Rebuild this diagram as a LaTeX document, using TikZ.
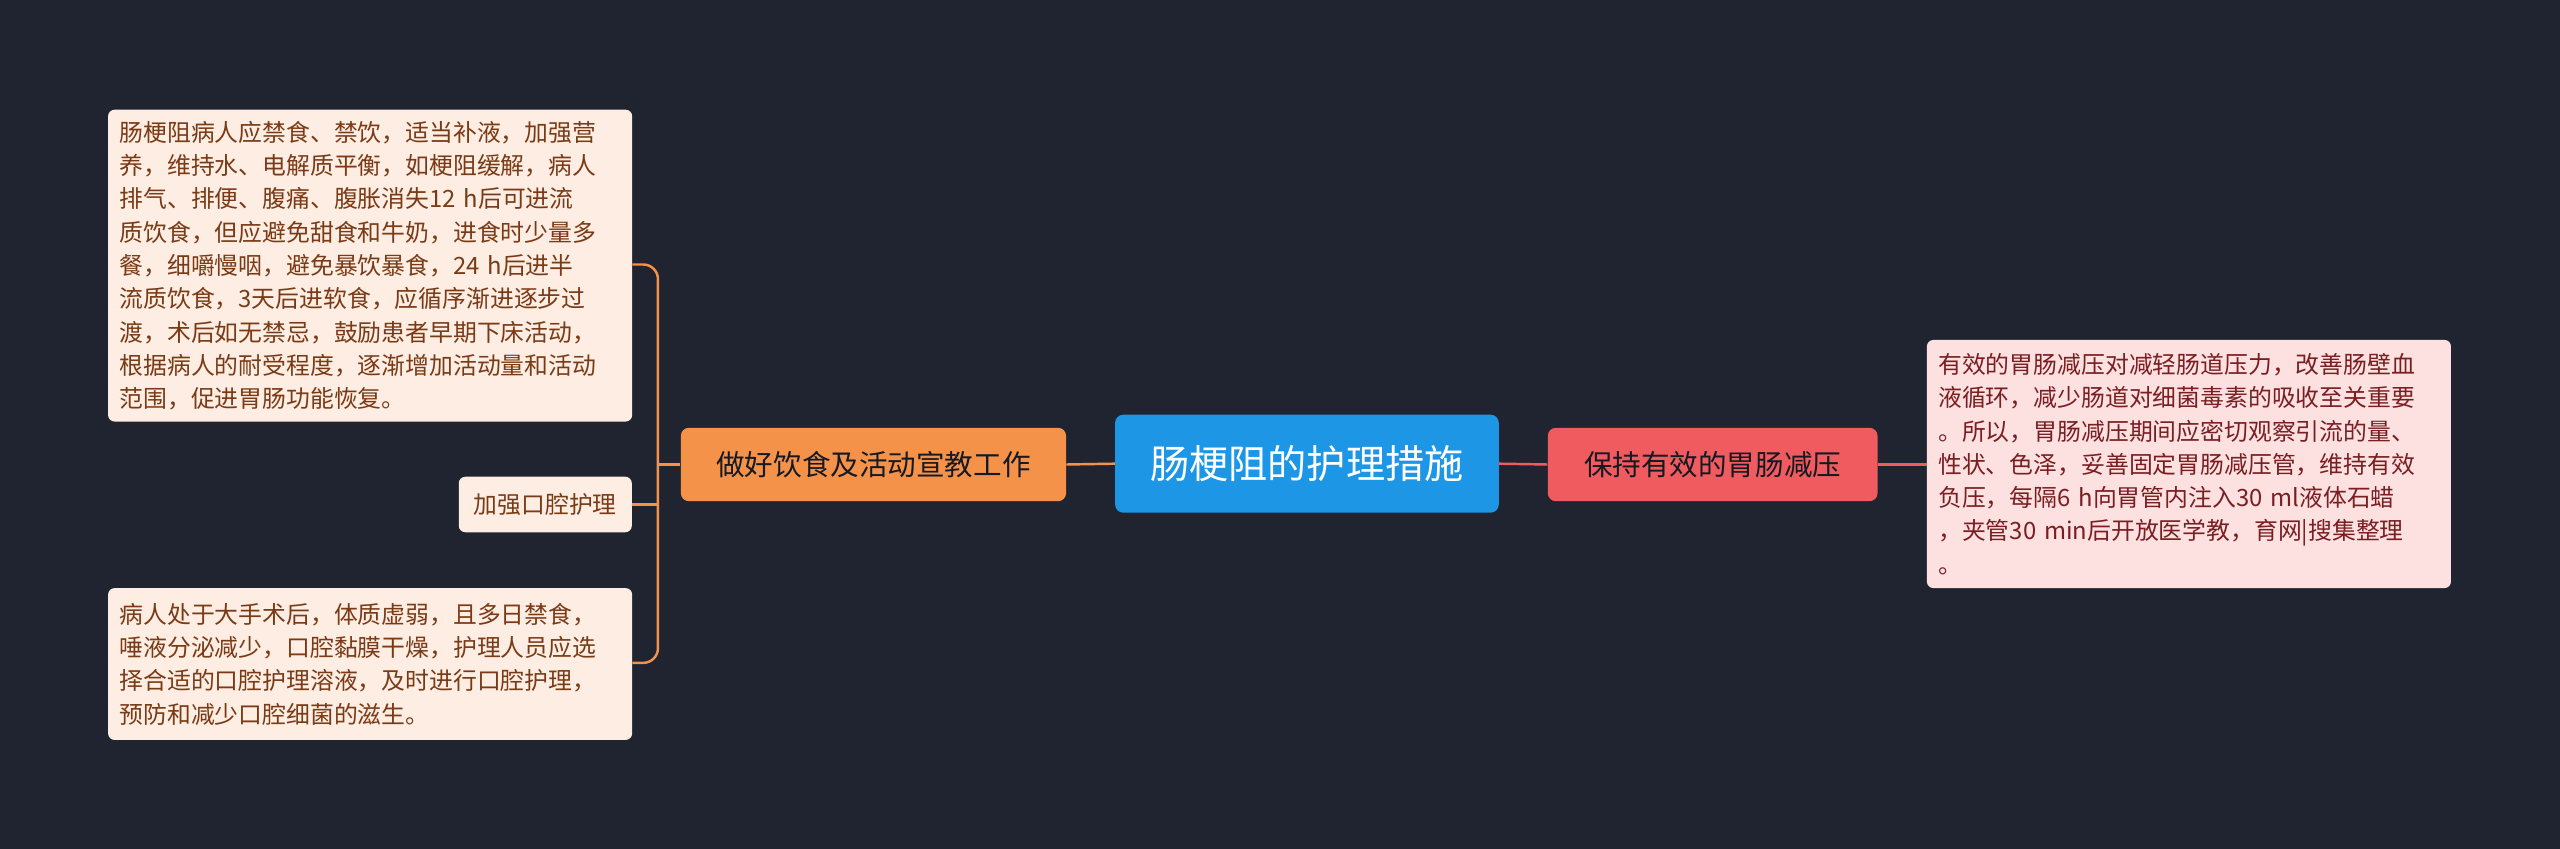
\documentclass[tikz,border=0pt]{standalone}
\usepackage{fontspec}
\newfontfamily\cjk{Noto Sans CJK SC}
\definecolor{bg}{HTML}{1F2430}
\definecolor{blue}{HTML}{1E96E6}
\definecolor{org}{HTML}{F4924A}
\definecolor{rd}{HTML}{EF5B5E}
\definecolor{peach}{HTML}{FDEDE2}
\definecolor{pink}{HTML}{FDE1E1}
\definecolor{ltxt}{HTML}{7A3A16}
\definecolor{rtxt}{HTML}{7A1E22}
\begin{document}
\begin{tikzpicture}[x=1pt,y=-1pt,
 leaf/.style={rounded corners=4pt,inner xsep=7pt,inner ysep=4pt,anchor=north west,align=left,font=\cjk\fontsize{14.6}{20.4}\selectfont},
 mainn/.style={rounded corners=5pt,inner sep=0pt,font=\cjk\fontsize{17.5}{20}\selectfont,text=bg!70!black}]
\fill[bg] (0,0) rectangle (1568,520);
\useasboundingbox (0,0) rectangle (1568,520);
\node[rounded corners=5pt,fill=blue,minimum width=235pt,minimum height=60pt,text=white,font=\cjk\fontsize{24}{28}\selectfont] (C) at (800.5,284) {肠梗阻的护理措施};
\node[mainn,fill=org,minimum width=236pt,minimum height=45pt] (L) at (535,284.5) {做好饮食及活动宣教工作};
\node[mainn,fill=rd,minimum width=202pt,minimum height=45pt] (R) at (1049,284.5) {保持有效的胃肠减压};
\node[leaf,fill=peach,text=ltxt,minimum height=191pt,text width=307pt] (B1) at (66,67) {肠梗阻病人应禁食、禁饮，适当补液，加强营\\养，维持水、电解质平衡，如梗阻缓解，病人\\排气、排便、腹痛、腹胀消失12 h后可进流\\质饮食，但应避免甜食和牛奶，进食时少量多\\餐，细嚼慢咽，避免暴饮暴食，24 h后进半\\流质饮食，3天后进软食，应循序渐进逐步过\\渡，术后如无禁忌，鼓励患者早期下床活动，\\根据病人的耐受程度，逐渐增加活动量和活动\\范围，促进胃肠功能恢复。};
\node[leaf,fill=peach,text=ltxt,inner sep=0pt,minimum width=106pt,minimum height=34pt,align=center,anchor=center] (B2) at (334,309) {加强口腔护理};
\node[leaf,fill=peach,text=ltxt,minimum height=93pt,text width=307pt] (B3) at (66,360) {病人处于大手术后，体质虚弱，且多日禁食，\\唾液分泌减少，口腔黏膜干燥，护理人员应选\\择合适的口腔护理溶液，及时进行口腔护理，\\预防和减少口腔细菌的滋生。};
\node[leaf,fill=pink,text=rtxt,minimum height=152pt,text width=307pt] (B4) at (1180,208) {有效的胃肠减压对减轻肠道压力，改善肠壁血\\液循环，减少肠道对细菌毒素的吸收至关重要\\。所以，胃肠减压期间应密切观察引流的量、\\性状、色泽，妥善固定胃肠减压管，维持有效\\负压，每隔6 h向胃管内注入30 ml液体石蜡\\，夹管30 min后开放医学教，育网|搜集整理\\。};
\coordinate (lb) at (403,284.5);
\draw[org,line width=1.5pt] (C.west) -- (L.east);
\draw[org,line width=1.5pt] (L.west) -- (lb);
\draw[org,line width=1.5pt,rounded corners=9pt] (B1.east |- 0,162) -- (lb |- 0,162) -- (lb) -- (lb |- 0,406) -- (B3.east |- 0,406);
\draw[org,line width=1.5pt] (lb |- B2.east) -- (B2.east);
\draw[rd,line width=1.5pt] (C.east) -- (R.west);
\draw[rd,line width=1.5pt] (R.east) -- (B4.west |- R.east);
\end{tikzpicture}
\end{document}
